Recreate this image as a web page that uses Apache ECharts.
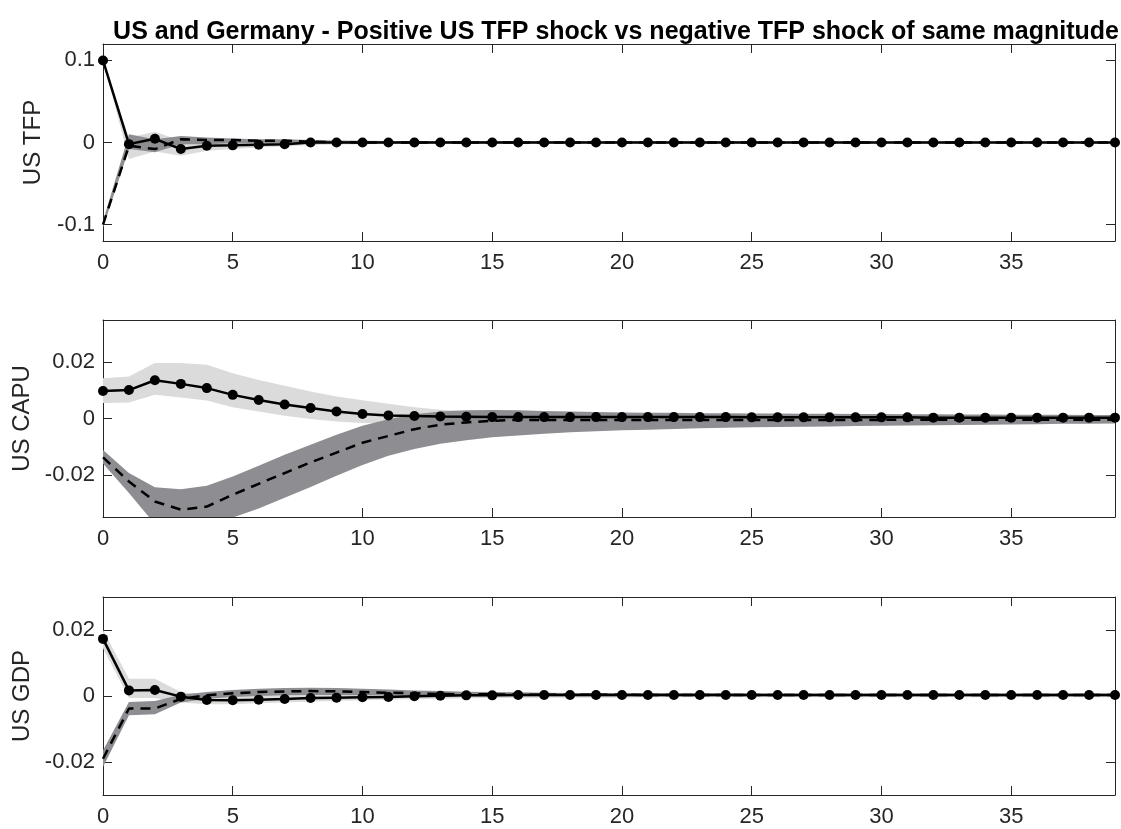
<!DOCTYPE html>
<html>
<head>
<meta charset="utf-8">
<title>US and Germany - Positive US TFP shock vs negative TFP shock of same magnitude</title>
<script src="https://cdn.jsdelivr.net/npm/echarts@6/dist/echarts.min.js"></script>
<style>
  html, body { margin: 0; padding: 0; background: #fff; }
  #chart { width: 1121px; height: 829px; }
</style>
</head>
<body>
<div id="chart"></div>
<script>
// Horizon (periods after the shock)
const steps = Array.from({ length: 40 }, (_, i) => i);
const xTicks = [0, 5, 10, 15, 20, 25, 30, 35];

const titleText = 'US and Germany - Positive US TFP shock vs negative TFP shock of same magnitude';
const panelNames = ['US TFP', 'US CAPU', 'US GDP'];

// ---- US TFP ----
const tfpPos = [0.1, -0.002, 0.0045, -0.008, -0.004, -0.0035, -0.0028, -0.0022, 0.0, 0.0,
  0.0, 0.0, 0.0, 0.0, 0.0, 0.0, 0.0, 0.0, 0.0, 0.0,
  0.0, 0.0, 0.0, 0.0, 0.0, 0.0, 0.0, 0.0, 0.0, 0.0,
  0.0, 0.0, 0.0, 0.0, 0.0, 0.0, 0.0, 0.0, 0.0, 0.0];
const tfpNeg = [-0.1, -0.004, -0.008, 0.004, 0.003, 0.003, 0.002, 0.002, 0.001, 0.0005,
  0.0, 0.0, 0.0, 0.0, 0.0, 0.0, 0.0, 0.0, 0.0, 0.0,
  0.0, 0.0, 0.0, 0.0, 0.0, 0.0, 0.0, 0.0, 0.0, 0.0,
  0.0, 0.0, 0.0, 0.0, 0.0, 0.0, 0.0, 0.0, 0.0, 0.0];
const tfpPosLo = [0.1, -0.020, -0.011, -0.016, -0.010, -0.008, -0.006, -0.005, -0.003, -0.0025,
  -0.002, -0.0018, -0.0016, -0.0015, -0.0015, -0.0014, -0.0014, -0.0013, -0.0013, -0.0012,
  -0.0012, -0.0012, -0.0011, -0.0011, -0.0011, -0.0011, -0.001, -0.001, -0.001, -0.001,
  -0.001, -0.001, -0.001, -0.001, -0.001, -0.001, -0.001, -0.001, -0.001, -0.001];
const tfpPosHi = [0.1, 0.006, 0.013, 0.002, 0.002, 0.001, 0.001, 0.001, 0.001, 0.001,
  0.001, 0.001, 0.001, 0.001, 0.001, 0.001, 0.001, 0.001, 0.001, 0.001,
  0.001, 0.001, 0.001, 0.001, 0.001, 0.001, 0.001, 0.001, 0.001, 0.001,
  0.001, 0.001, 0.001, 0.001, 0.001, 0.001, 0.001, 0.001, 0.001, 0.001];
const tfpNegLo = [-0.104, -0.008, -0.012, -0.002, -0.002, -0.001, -0.001, -0.001, -0.001, -0.001,
  -0.001, -0.001, -0.001, -0.001, -0.001, -0.001, -0.001, -0.001, -0.001, -0.001,
  -0.001, -0.001, -0.001, -0.001, -0.001, -0.001, -0.001, -0.001, -0.001, -0.001,
  -0.001, -0.001, -0.001, -0.001, -0.001, -0.001, -0.001, -0.001, -0.001, -0.001];
const tfpNegHi = [-0.096, 0.010, 0.004, 0.008, 0.006, 0.005, 0.004, 0.004, 0.003, 0.0025,
  0.002, 0.0018, 0.0016, 0.0015, 0.0015, 0.0014, 0.0014, 0.0013, 0.0013, 0.0012,
  0.0012, 0.0012, 0.0011, 0.0011, 0.0011, 0.0011, 0.001, 0.001, 0.001, 0.001,
  0.001, 0.001, 0.001, 0.001, 0.001, 0.001, 0.001, 0.001, 0.001, 0.001];

// ---- US CAPU ----
const capuPos = [0.0098, 0.0101, 0.0136, 0.0123, 0.0108, 0.0084, 0.0066, 0.0050, 0.0037, 0.0025,
  0.0016, 0.0011, 0.0009, 0.0007, 0.0006, 0.0005, 0.0005, 0.0005, 0.0005, 0.0005,
  0.0005, 0.0005, 0.0005, 0.0005, 0.0005, 0.0004, 0.0004, 0.0004, 0.0004, 0.0004,
  0.0004, 0.0004, 0.0003, 0.0003, 0.0003, 0.0003, 0.0003, 0.0003, 0.0003, 0.0003];
const capuNeg = [-0.0138, -0.0224, -0.0295, -0.0324, -0.0313, -0.0271, -0.0232, -0.0194, -0.0156, -0.0121,
  -0.0086, -0.0062, -0.0038, -0.0022, -0.0014, -0.0008, -0.0005, -0.0005, -0.0005, -0.0005,
  -0.0005, -0.0005, -0.0005, -0.0005, -0.0005, -0.0005, -0.0005, -0.0005, -0.0005, -0.0005,
  -0.0005, -0.0004, -0.0004, -0.0004, -0.0004, -0.0004, -0.0004, -0.0004, -0.0004, -0.0004];
const capuPosLo = [0.0055, 0.0057, 0.0084, 0.0075, 0.0064, 0.0040, 0.0025, 0.0010, -0.0002, -0.0011,
  -0.0016, -0.0018, -0.0018, -0.0017, -0.0016, -0.0015, -0.0014, -0.0014, -0.0013, -0.0013,
  -0.0012, -0.0012, -0.0012, -0.0011, -0.0011, -0.0011, -0.0011, -0.001, -0.001, -0.001,
  -0.001, -0.001, -0.001, -0.001, -0.001, -0.001, -0.001, -0.001, -0.001, -0.001];
const capuPosHi = [0.0143, 0.0149, 0.0197, 0.0197, 0.0191, 0.0161, 0.0137, 0.0116, 0.0096, 0.0078,
  0.0065, 0.0052, 0.0040, 0.0031, 0.0026, 0.0022, 0.0019, 0.0017, 0.0016, 0.0015,
  0.0014, 0.0014, 0.0013, 0.0013, 0.0013, 0.0012, 0.0012, 0.0012, 0.0011, 0.0011,
  0.0011, 0.0011, 0.001, 0.001, 0.001, 0.001, 0.001, 0.001, 0.001, 0.001];
const capuNegLo = [-0.0160, -0.0265, -0.0375, -0.0410, -0.0400, -0.0352, -0.0320, -0.0282, -0.0243, -0.0203,
  -0.0165, -0.0132, -0.0108, -0.0090, -0.0077, -0.0067, -0.0060, -0.0054, -0.0049, -0.0045,
  -0.0042, -0.0040, -0.0037, -0.0035, -0.0033, -0.0031, -0.0030, -0.0029, -0.0028, -0.0027,
  -0.0026, -0.0025, -0.0024, -0.0023, -0.0022, -0.0021, -0.0020, -0.0019, -0.0019, -0.0018];
const capuNegHi = [-0.0112, -0.0194, -0.0244, -0.0251, -0.0239, -0.0206, -0.0168, -0.0129, -0.0093, -0.0058,
  -0.0026, -0.0003, 0.0015, 0.0025, 0.0029, 0.0030, 0.0029, 0.0027, 0.0025, 0.0023,
  0.0021, 0.0020, 0.0020, 0.0019, 0.0019, 0.0018, 0.0018, 0.0017, 0.0017, 0.0016,
  0.0016, 0.0015, 0.0015, 0.0014, 0.0014, 0.0013, 0.0013, 0.0013, 0.0012, 0.0012];

// ---- US GDP ----
const gdpPos = [0.0173, 0.0017, 0.0018, -0.0002, -0.0012, -0.0013, -0.0011, -0.0009, -0.0006, -0.0005,
  -0.0004, -0.0003, -0.0001, 0.0001, 0.0002, 0.0002, 0.0003, 0.0003, 0.0003, 0.0003,
  0.0003, 0.0003, 0.0003, 0.0003, 0.0003, 0.0003, 0.0003, 0.0003, 0.0003, 0.0003,
  0.0003, 0.0003, 0.0003, 0.0003, 0.0003, 0.0003, 0.0003, 0.0003, 0.0003, 0.0003];
const gdpNeg = [-0.0190, -0.0038, -0.0038, -0.0009, 0.0002, 0.0008, 0.0012, 0.0014, 0.0015, 0.0014,
  0.0012, 0.0010, 0.0008, 0.0006, 0.0005, 0.0005, 0.0004, 0.0004, 0.0004, 0.0004,
  0.0004, 0.0003, 0.0003, 0.0003, 0.0003, 0.0003, 0.0003, 0.0003, 0.0003, 0.0003,
  0.0003, 0.0003, 0.0003, 0.0003, 0.0003, 0.0003, 0.0003, 0.0003, 0.0003, 0.0003];
const gdpPosLo = [0.0145, -0.0006, -0.0006, -0.0020, -0.0025, -0.0025, -0.0022, -0.0020, -0.0017, -0.0015,
  -0.0013, -0.0011, -0.0009, -0.0008, -0.0007, -0.0006, -0.0006, -0.0005, -0.0005, -0.0005,
  -0.0005, -0.0004, -0.0004, -0.0004, -0.0004, -0.0004, -0.0004, -0.0004, -0.0004, -0.0004,
  -0.0004, -0.0004, -0.0004, -0.0004, -0.0004, -0.0004, -0.0004, -0.0004, -0.0004, -0.0004];
const gdpPosHi = [0.0200, 0.0052, 0.0052, 0.0012, 0.0004, 0.0003, 0.0003, 0.0004, 0.0005, 0.0005,
  0.0005, 0.0006, 0.0006, 0.0007, 0.0008, 0.0008, 0.0009, 0.0009, 0.0009, 0.0009,
  0.0009, 0.0009, 0.0009, 0.0009, 0.0009, 0.0009, 0.0009, 0.0009, 0.0009, 0.0009,
  0.0009, 0.0009, 0.0009, 0.0009, 0.0009, 0.0009, 0.0009, 0.0009, 0.0009, 0.0009];
const gdpNegLo = [-0.0215, -0.0058, -0.0055, -0.0020, -0.0008, -0.0003, 0.0000, 0.0002, 0.0003, 0.0003,
  0.0002, 0.0001, 0.0000, -0.0001, -0.0001, -0.0001, -0.0001, -0.0001, -0.0001, -0.0001,
  -0.0001, -0.0001, -0.0001, -0.0001, -0.0001, -0.0001, -0.0001, -0.0001, -0.0001, -0.0001,
  -0.0001, -0.0001, -0.0001, -0.0001, -0.0001, -0.0001, -0.0001, -0.0001, -0.0001, -0.0001];
const gdpNegHi = [-0.0165, -0.0018, -0.0015, 0.0004, 0.0012, 0.0018, 0.0022, 0.0024, 0.0025, 0.0024,
  0.0022, 0.0020, 0.0017, 0.0015, 0.0013, 0.0012, 0.0011, 0.0010, 0.0009, 0.0009,
  0.0008, 0.0008, 0.0008, 0.0008, 0.0008, 0.0007, 0.0007, 0.0007, 0.0007, 0.0007,
  0.0007, 0.0007, 0.0007, 0.0007, 0.0007, 0.0007, 0.0007, 0.0007, 0.0007, 0.0007];

// Y ranges and tick labels per panel
const yRanges = [[-0.12, 0.12], [-0.035, 0.035], [-0.03, 0.03]];
const yTickValues = [[-0.1, 0, 0.1], [-0.02, 0, 0.02], [-0.02, 0, 0.02]];
const yTickLabels = [['-0.1', '0', '0.1'], ['-0.02', '0', '0.02'], ['-0.02', '0', '0.02']];

const panels = [
  { pos: tfpPos, neg: tfpNeg, posLo: tfpPosLo, posHi: tfpPosHi, negLo: tfpNegLo, negHi: tfpNegHi },
  { pos: capuPos, neg: capuNeg, posLo: capuPosLo, posHi: capuPosHi, negLo: capuNegLo, negHi: capuNegHi },
  { pos: gdpPos, neg: gdpNeg, posLo: gdpPosLo, posHi: gdpPosHi, negLo: gdpNegLo, negHi: gdpNegHi }
];

const AXIS_COLOR = '#262626';
const LIGHT_BAND = '#dbdbdc';
const DARK_BAND = '#8d8d92';
const FONT = 'Liberation Sans, Arial, Helvetica, sans-serif';

const gridBoxes = [
  { left: 103, top: 44, width: 1012, height: 197 },
  { left: 103, top: 320, width: 1012, height: 197 },
  { left: 103, top: 597, width: 1012, height: 198 }
];
const nameGaps = [58, 55, 55];

function toPairs(values) {
  return steps.map((t, i) => [t, values[i]]);
}

// Shaded band between lower and upper bounds, drawn as one polygon
function bandSeries(lo, hi, color, axisIdx, z) {
  const rows = steps.map((t, i) => [t, lo[i], hi[i]]);
  return {
    type: 'custom',
    xAxisIndex: axisIdx,
    yAxisIndex: axisIdx,
    silent: true,
    clip: true,
    z: z,
    data: rows,
    encode: { x: 0, y: [1, 2] },
    renderItem: function (params, api) {
      if (params.dataIndex !== 0) return null;
      const pts = [];
      for (let i = 0; i < rows.length; i++) pts.push(api.coord([rows[i][0], rows[i][2]]));
      for (let i = rows.length - 1; i >= 0; i--) pts.push(api.coord([rows[i][0], rows[i][1]]));
      const cs = params.coordSys;
      return {
        type: 'polygon',
        shape: { points: pts },
        style: { fill: color, stroke: null },
        clipPath: { type: 'rect', shape: { x: cs.x, y: cs.y, width: cs.width, height: cs.height } }
      };
    }
  };
}

const grids = [];
const xAxes = [];
const yAxes = [];
const series = [];

panels.forEach((p, k) => {
  grids.push(Object.assign({ containLabel: false }, gridBoxes[k]));
  const labels = yTickLabels[k];
  const ticks = yTickValues[k];
  // bottom axis with labels
  xAxes.push({
    type: 'value', gridIndex: k, min: 0, max: 39, position: 'bottom',
    axisLine: { show: true, onZero: false, lineStyle: { color: AXIS_COLOR, width: 1 } },
    axisTick: { show: true, inside: true, length: 9, customValues: xTicks, lineStyle: { color: AXIS_COLOR } },
    axisLabel: { show: true, customValues: xTicks, color: AXIS_COLOR, fontSize: 22, fontFamily: FONT, margin: 11 },
    splitLine: { show: false }
  });
  // top axis, ticks only
  xAxes.push({
    type: 'value', gridIndex: k, min: 0, max: 39, position: 'top',
    axisLine: { show: true, onZero: false, lineStyle: { color: AXIS_COLOR, width: 1 } },
    axisTick: { show: true, inside: true, length: 9, customValues: xTicks, lineStyle: { color: AXIS_COLOR } },
    axisLabel: { show: false },
    splitLine: { show: false }
  });
  yAxes.push({
    type: 'value', gridIndex: k, min: yRanges[k][0], max: yRanges[k][1], position: 'left',
    name: panelNames[k], nameLocation: 'middle', nameGap: nameGaps[k],
    nameTextStyle: { color: AXIS_COLOR, fontSize: 24, fontFamily: FONT },
    axisLine: { show: true, onZero: false, lineStyle: { color: AXIS_COLOR, width: 1 } },
    axisTick: { show: true, inside: true, length: 9, customValues: ticks, lineStyle: { color: AXIS_COLOR } },
    axisLabel: {
      show: true, customValues: ticks, color: AXIS_COLOR, fontSize: 22, fontFamily: FONT, margin: 8,
      formatter: function (v) {
        let best = 0;
        for (let i = 1; i < ticks.length; i++) {
          if (Math.abs(ticks[i] - v) < Math.abs(ticks[best] - v)) best = i;
        }
        return labels[best];
      }
    },
    splitLine: { show: false }
  });
  yAxes.push({
    type: 'value', gridIndex: k, min: yRanges[k][0], max: yRanges[k][1], position: 'right',
    axisLine: { show: true, onZero: false, lineStyle: { color: AXIS_COLOR, width: 1 } },
    axisTick: { show: true, inside: true, length: 9, customValues: ticks, lineStyle: { color: AXIS_COLOR } },
    axisLabel: { show: false },
    splitLine: { show: false }
  });

  const ax = 2 * k;
  series.push(bandSeries(p.posLo, p.posHi, LIGHT_BAND, ax, 1));
  series.push(bandSeries(p.negLo, p.negHi, DARK_BAND, ax, 2));
  series.push({
    type: 'line', xAxisIndex: ax, yAxisIndex: ax, z: 3,
    data: toPairs(p.pos),
    symbol: 'circle', symbolSize: 10, showSymbol: true, showAllSymbol: true,
    lineStyle: { color: '#000', width: 2.5 },
    itemStyle: { color: '#000' },
    clip: true, silent: true
  });
  series.push({
    type: 'line', xAxisIndex: ax, yAxisIndex: ax, z: 4,
    data: toPairs(p.neg),
    symbol: 'none', showSymbol: false,
    lineStyle: { color: '#000', width: 2.5, type: [10, 7] },
    clip: true, silent: true
  });
});

const chart = echarts.init(document.getElementById('chart'), null, { renderer: 'canvas' });
chart.setOption({
  animation: false,
  backgroundColor: '#ffffff',
  title: {
    text: titleText,
    left: 611, top: 15, textAlign: 'center',
    textStyle: { color: '#000', fontSize: 25, fontWeight: 'bold', fontFamily: FONT }
  },
  grid: grids,
  xAxis: xAxes,
  yAxis: yAxes,
  series: series
});
</script>
</body>
</html>
